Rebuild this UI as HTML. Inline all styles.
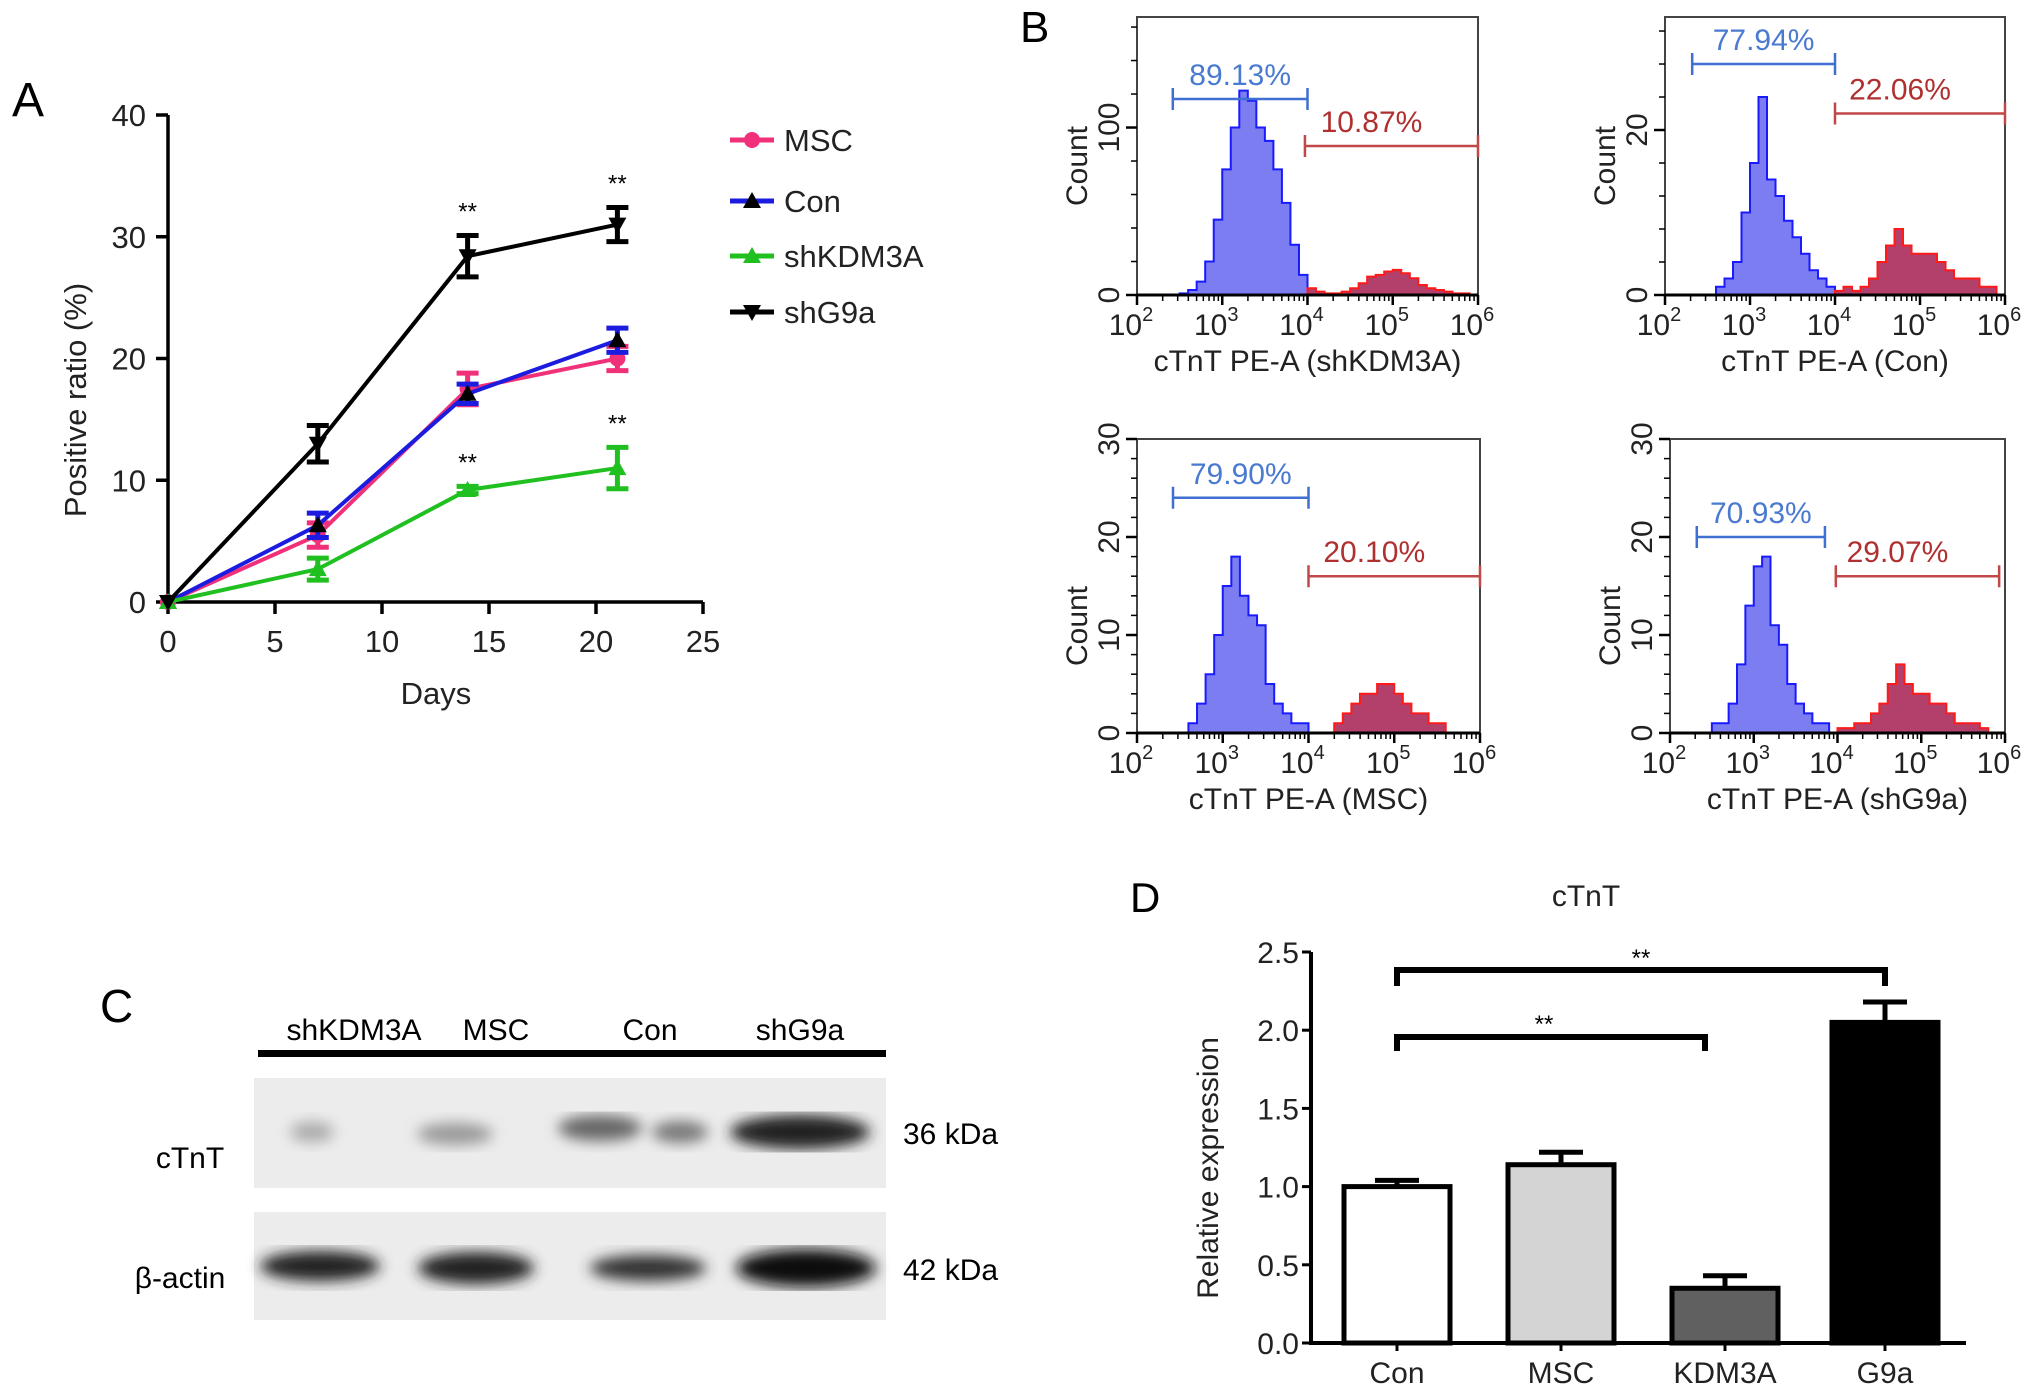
<!DOCTYPE html>
<html><head><meta charset="utf-8"><style>
html,body{margin:0;padding:0;background:#fff}
svg{display:block;font-family:"Liberation Sans",sans-serif}
</style></head><body>
<svg id="fig" width="2032" height="1390" viewBox="0 0 2032 1390" xmlns="http://www.w3.org/2000/svg">
<defs>
<filter id="blur6"><feGaussianBlur stdDeviation="7"/></filter>
</defs>
<g id="panelA"></g>
<g id="panelB"></g>
<g id="panelC">
  <text x="100" y="1022" font-size="46">C</text>
  <text x="354" y="1040" font-size="30" text-anchor="middle">shKDM3A</text>
  <text x="496" y="1040" font-size="30" text-anchor="middle">MSC</text>
  <text x="650" y="1040" font-size="30" text-anchor="middle">Con</text>
  <text x="800" y="1040" font-size="30" text-anchor="middle">shG9a</text>
  <rect x="258" y="1050" width="628" height="7" fill="#000"/>
  <rect x="254" y="1078" width="632" height="110" fill="#ececec"/>
  <g filter="url(#blur6)">
    <ellipse cx="312" cy="1132" rx="22" ry="10" fill="#aaa"/>
    <ellipse cx="455" cy="1134" rx="38" ry="11" fill="#999"/>
    <ellipse cx="600" cy="1128" rx="42" ry="13" fill="#666"/>
    <ellipse cx="680" cy="1132" rx="28" ry="11" fill="#777"/>
    <ellipse cx="800" cy="1132" rx="70" ry="17" fill="#222"/>
  </g>
  <rect x="254" y="1212" width="632" height="108" fill="#ececec"/>
  <g filter="url(#blur6)">
    <ellipse cx="320" cy="1266" rx="60" ry="15" fill="#222"/>
    <ellipse cx="476" cy="1268" rx="58" ry="16" fill="#222"/>
    <ellipse cx="648" cy="1268" rx="58" ry="13" fill="#333"/>
    <ellipse cx="806" cy="1268" rx="70" ry="19" fill="#111"/>
  </g>
  <text x="190" y="1168" font-size="30" text-anchor="middle">cTnT</text>
  <text x="180" y="1288" font-size="30" text-anchor="middle">β-actin</text>
  <text x="903" y="1144" font-size="30">36 kDa</text>
  <text x="903" y="1280" font-size="30">42 kDa</text>
</g>
<g id="panelD"></g>
</svg>
<script>
const NS="http://www.w3.org/2000/svg";
function mk(parent,tag,attrs,text){const e=document.createElementNS(NS,tag);for(const k in attrs)e.setAttribute(k,attrs[k]);if(text!==undefined)e.textContent=text;parent.appendChild(e);return e;}

/* ---------- Panel A data ---------- */
const aDays=[0,7,14,21];
const aSeriesNames=["MSC","Con","shKDM3A","shG9a"];
const aMSC=[0,5.5,17.5,20.0];
const aMSCerr=[0.3,1.0,1.3,1.0];
const aCon=[0,6.3,17.1,21.5];
const aConErr=[0.3,1.0,0.8,1.0];
const aKDM=[0,2.7,9.2,11.0];
const aKDMerr=[0.3,0.9,0.3,1.7];
const aG9a=[0,13.0,28.4,31.0];
const aG9aErr=[0.3,1.5,1.7,1.4];
const aXTicks=[0,5,10,15,20,25];
const aYTicks=[0,10,20,30,40];

/* ---------- Panel B data (counts per 0.1-decade bin starting at 10^2) ---------- */
const bTitles=["cTnT PE-A (shKDM3A)","cTnT PE-A (Con)","cTnT PE-A (MSC)","cTnT PE-A (shG9a)"];
const bYMax=[166,33.7,30,30];
const bYTicks1=[0,100];
const bYTicks2=[0,20];
const bYTicks3=[0,10,20,30];
const bYTicks4=[0,10,20,30];
const bHist1=[0,0,0,0,0,1,3,8,20,45,75,100,122,116,100,92,75,55,30,12,4,2,1,1,2,4,7,11,12,14,15,13,10,6,4,3,2,1,1,0];
const bHist2=[0,0,0,0,0,0,1,2,4,10,16,24,14,12,9,7,5,3,2,1,0.5,1,0.5,1,2,4,6,8,6,5,5,5,4,3,2,2,2,1,1,0];
const bHist3=[0,0,0,0,0,0,1,3,6,10,15,18,14,12,11,5,3,2,1,1,0,0,0,1,2,3,4,4,5,5,4,3,2,2,1,1,0,0,0,0];
const bHist4=[0,0,0,0,0,1,1,3,7,13,17,18,11,9,5,3,2,1,1,0,0.5,0.5,1,1,2,3,5,7,5,4,4,3,3,2,1,1,1,0.5,0,0];
const bBlueGate=[[2.42,4.0,117],[2.32,4.0,28],[2.42,4.0,24],[2.32,3.85,20]];
const bRedGate=[[3.97,6.0,89],[4.0,6.0,22],[4.0,6.0,16],[3.98,5.93,16]];
const bBlueLbl=["89.13%","77.94%","79.90%","70.93%"];
const bRedLbl=["10.87%","22.06%","20.10%","29.07%"];

/* ---------- Panel D data ---------- */
const dCats=["Con","MSC","KDM3A","G9a"];
const dVals=[1.0,1.14,0.35,2.05];
const dErrs=[0.04,0.08,0.08,0.13];
const dFills=["#ffffff","#d4d4d4","#606060","#000000"];
const dYTicks=[0.0,0.5,1.0,1.5,2.0,2.5];

/* ================= Panel A ================= */
(function(){
 const g=document.getElementById('panelA');
 const X0=168,X1=703,Y0=602,Y1=115;
 const xs=d=>X0+(d-0)/(25-0)*(X1-X0);
 const ys=v=>Y0-(v/40)*(Y0-Y1);
 const t=mk(g,'text',{x:12,y:116,'font-size':48},'A');
 
 
 const ax=mk(g,'path',{d:`M${X0},${Y1} V${Y0} H${X1}`,stroke:'#000','stroke-width':3.5,fill:'none'});
 
 
 aYTicks.forEach(v=>{
  mk(g,'line',{x1:X0-12,x2:X0,y1:ys(v),y2:ys(v),stroke:'#000','stroke-width':3.5});
  const l=mk(g,'text',{x:X0-22,y:ys(v)+11,'font-size':31,'text-anchor':'end',fill:'#222'},String(v));
  
  
 });
 aXTicks.forEach(v=>{
  mk(g,'line',{x1:xs(v),x2:xs(v),y1:Y0,y2:Y0+12,stroke:'#000','stroke-width':3.5});
  const l=mk(g,'text',{x:xs(v),y:Y0+50,'font-size':31,'text-anchor':'middle',fill:'#222'},String(v));
  
  
 });
 const xt=mk(g,'text',{x:436,y:704,'font-size':31,'text-anchor':'middle',fill:'#222'},'Days');
 
 
 const yt=mk(g,'text',{x:0,y:0,'font-size':31,'text-anchor':'middle',fill:'#222',transform:`translate(86,400) rotate(-90)`},'Positive ratio (%)');
 
 
 const series=[
  {name:'msc',vals:aMSC,err:aMSCerr,col:'#f0317a',mcol:'#f0317a',mk:'circle'},
  {name:'con',vals:aCon,err:aConErr,col:'#1c1ce0',mcol:'#000',mk:'tri'},
  {name:'shkdm3a',vals:aKDM,err:aKDMerr,col:'#20c020',mcol:'#20c020',mk:'tri'},
  {name:'shg9a',vals:aG9a,err:aG9aErr,col:'#000',mcol:'#000',mk:'itri'}];
 function marker(p,type,cx,cy,col,name){
  let e;
  if(type==='circle') e=mk(p,'circle',{cx,cy,r:8,fill:col});
  else if(type==='tri') e=mk(p,'path',{d:`M${cx},${cy-9} L${cx+9},${cy+7} L${cx-9},${cy+7} Z`,fill:col});
  else e=mk(p,'path',{d:`M${cx},${cy+9} L${cx+9},${cy-7} L${cx-9},${cy-7} Z`,fill:col});
  
  
 }
 series.forEach(s=>{
  const sg=mk(g,'g',{});
  
  
  const pts=aDays.map((d,i)=>`${xs(d)},${ys(s.vals[i])}`).join(' ');
  const pl=mk(sg,'polyline',{points:pts,fill:'none',stroke:s.col,'stroke-width':4});
  
  
  aDays.forEach((d,i)=>{
   const x=xs(d),yt=ys(s.vals[i]+s.err[i]),yb=ys(s.vals[i]-s.err[i]);
   if(i>0){
    const eb=mk(sg,'path',{d:`M${x},${yt} V${yb} M${x-11},${yt} H${x+11} M${x-11},${yb} H${x+11}`,stroke:s.col,'stroke-width':5,fill:'none'});
    
    
   }
   marker(sg,s.mk,x,ys(s.vals[i]),s.mcol,'point-'+s.name);
  });
 });
 [[14,aG9a[2]+aG9aErr[2]],[21,aG9a[3]+aG9aErr[3]],[14,aKDM[2]+aKDMerr[2]],[21,aKDM[3]+aKDMerr[3]]].forEach(p=>{
  const a=mk(g,'text',{x:xs(p[0]),y:ys(p[1])-16,'font-size':24,'text-anchor':'middle'},'**');
  
  
 });
 const lg=mk(g,'g',{});
 
 
 const ly=[140,201,256,312];
 series.forEach((s,i)=>{
  const eg=mk(lg,'g',{});
  
  
  mk(eg,'line',{x1:730,x2:774,y1:ly[i],y2:ly[i],stroke:s.col,'stroke-width':5});
  marker(eg,s.mk,752,ly[i],s.mcol,'legend-marker');
  mk(eg,'text',{x:784,y:ly[i]+11,'font-size':31,fill:'#222'},aSeriesNames[i]);
 });
})();

/* ================= Panel B ================= */
(function(){
 const g=document.getElementById('panelB');
 const lb=mk(g,'text',{x:1020,y:42,'font-size':44},'B');
 
 
 const boxes=[[1137,1478,17,295],[1665,2005,17,295],[1137,1480,439,733],[1670,2005,439,733]];
 const hists=[bHist1,bHist2,bHist3,bHist4];
 const yt=[bYTicks1,bYTicks2,bYTicks3,bYTicks4];
 const names=['shkdm3a','con','msc','shg9a'];
 boxes.forEach((b,k)=>{
  const [L,R,T,B]=b;
  const pg=mk(g,'g',{});
  
  
  const xs=lg=>L+(lg-2)/4*(R-L);
  const ys=c=>B-c/bYMax[k]*(B-T);
  const h=hists[k];
  function poly(from,to,fill,stroke,nm){
   let d=`M${xs(2+from*0.1)},${B}`;
   for(let i=from;i<to;i++){d+=` V${ys(h[i])} H${xs(2+(i+1)*0.1)}`;}
   d+=` V${B} Z`;
   const p=mk(pg,'path',{d,fill,stroke,'stroke-width':2});
   
   
  }
  poly(0,20,'#7d7df2','#1a1aff','negative-population');
  poly(20,h.length,'#b2406a','#ff1a1a','positive-population');
  const bx=mk(pg,'rect',{x:L,y:T,width:R-L,height:B-T,fill:'none',stroke:'#444','stroke-width':2});
  
  
  mk(pg,'line',{x1:L,x2:R,y1:B,y2:B,stroke:'#000','stroke-width':3});
  for(let dec=2;dec<=6;dec++){
   mk(pg,'line',{x1:xs(dec),x2:xs(dec),y1:B,y2:B+10,stroke:'#000','stroke-width':2.5});
   const tl=mk(pg,'text',{x:xs(dec)-6,y:B+40,'font-size':30,'text-anchor':'middle',fill:'#222'},'10');
   
   
   mk(tl,'tspan',{dy:-14,'font-size':20},String(dec));
   if(dec<6) for(let m=2;m<10;m++){const lx=xs(dec+Math.log10(m));mk(pg,'line',{x1:lx,x2:lx,y1:B,y2:B+6,stroke:'#000','stroke-width':1.5});}
  }
  const step=yt[k][1]-yt[k][0];
  for(let v=0;v<=bYMax[k];v+=step/5){mk(pg,'line',{x1:L-6,x2:L,y1:ys(v),y2:ys(v),stroke:'#000','stroke-width':1.5});}
  yt[k].forEach(v=>{
   mk(pg,'line',{x1:L-11,x2:L,y1:ys(v),y2:ys(v),stroke:'#000','stroke-width':2.5});
   const tl=mk(pg,'text',{x:0,y:0,'font-size':30,'text-anchor':'middle',fill:'#222',transform:`translate(${L-18},${ys(v)}) rotate(-90)`},String(v));
   
   
  });
  const ct=mk(pg,'text',{x:0,y:0,'font-size':30,'text-anchor':'middle',fill:'#222',transform:`translate(${L-50},${(T+B)/2+(k<2?10:40)}) rotate(-90)`},'Count');
  
  
  const xt=mk(pg,'text',{x:(L+R)/2,y:B+76,'font-size':30,'text-anchor':'middle',fill:'#222'},bTitles[k]);
  
  
  const bgG=bBlueGate[k],rgG=bRedGate[k];
  const gy1=ys(bgG[2]),gy2=ys(rgG[2]);
  const g1=mk(pg,'path',{d:`M${xs(bgG[0])},${gy1} H${xs(bgG[1])} M${xs(bgG[0])},${gy1-11} V${gy1+11} M${xs(bgG[1])},${gy1-11} V${gy1+11}`,stroke:'#3f6fd0','stroke-width':2.5,fill:'none'});
  
  
  const g2=mk(pg,'path',{d:`M${xs(rgG[0])},${gy2} H${xs(rgG[1])} M${xs(rgG[0])},${gy2-11} V${gy2+11} M${xs(rgG[1])},${gy2-11} V${gy2+11}`,stroke:'#c04848','stroke-width':2.5,fill:'none'});
  
  
  const t1=mk(pg,'text',{x:(xs(bgG[0])+xs(bgG[1]))/2,y:gy1-14,'font-size':30,'text-anchor':'middle',fill:'#4a7ad0'},bBlueLbl[k]);
  
  
  const t2=mk(pg,'text',{x:(xs(rgG[0])+xs(rgG[1]))/2-20,y:gy2-14,'font-size':30,'text-anchor':'middle',fill:'#b03030'},bRedLbl[k]);
  
  
 });
})();

/* ================= Panel D ================= */
(function(){
 const g=document.getElementById('panelD');
 const X0=1311,X1=1966,Y0=1343,Y1=952;
 const ys=v=>Y0-v/2.5*(Y0-Y1);
 const centers=[1397,1561,1725,1885];
 const bw=106;
 const lb=mk(g,'text',{x:1130,y:912,'font-size':42},'D');
 
 
 const tt=mk(g,'text',{x:1586,y:906,'font-size':30,'text-anchor':'middle',fill:'#222'},'cTnT');
 
 
 const yt=mk(g,'text',{x:0,y:0,'font-size':30,'text-anchor':'middle',fill:'#222',transform:'translate(1218,1168) rotate(-90)'},'Relative expression');
 
 
 dVals.forEach((v,i)=>{
  const bg=mk(g,'g',{});
  
  
  mk(bg,'rect',{x:centers[i]-bw/2,y:ys(v),width:bw,height:Y0-ys(v),fill:dFills[i],stroke:'#000','stroke-width':5});
  const e=ys(v+dErrs[i]);
  const eb=mk(bg,'path',{d:`M${centers[i]},${ys(v)} V${e} M${centers[i]-22},${e} H${centers[i]+22}`,stroke:'#000','stroke-width':5,fill:'none'});
  
  
  const cl=mk(g,'text',{x:centers[i],y:Y0+40,'font-size':30,'text-anchor':'middle',fill:'#222'},dCats[i]);
  
  
 });
 const ax=mk(g,'path',{d:`M${X0},${Y1} V${Y0} H${X1}`,stroke:'#000','stroke-width':4,fill:'none'});
 
 
 dYTicks.forEach(v=>{
  mk(g,'line',{x1:X0-9,x2:X0,y1:ys(v),y2:ys(v),stroke:'#000','stroke-width':3});
  const l=mk(g,'text',{x:X0-12,y:ys(v)+11,'font-size':30,'text-anchor':'end',fill:'#222'},v.toFixed(1));
  
  
 });
 centers.forEach(c=>mk(g,'line',{x1:c,x2:c,y1:Y0,y2:Y0+8,stroke:'#000','stroke-width':3}));
 const br1=mk(g,'path',{d:`M${centers[0]},986 V970 H${centers[3]} V986`,stroke:'#000','stroke-width':6,fill:'none'});
 
 
 const s1=mk(g,'text',{x:(centers[0]+centers[3])/2,y:966,'font-size':24,'text-anchor':'middle'},'**');
 
 
 const br2=mk(g,'path',{d:`M${centers[0]},1051 V1037 H${centers[2]-20} V1051`,stroke:'#000','stroke-width':6,fill:'none'});
 
 
 const s2=mk(g,'text',{x:1544,y:1032,'font-size':24,'text-anchor':'middle'},'**');
 
 
})();
</script>
</body></html>
